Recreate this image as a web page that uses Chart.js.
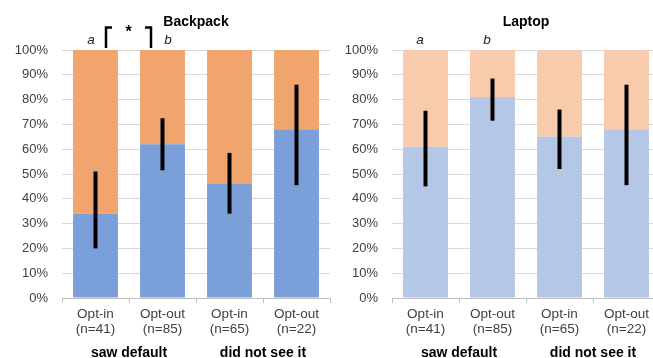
<!DOCTYPE html>
<html>
<head>
<meta charset="utf-8">
<script src="https://cdn.jsdelivr.net/npm/chart.js@4.4.1/dist/chart.umd.min.js"></script>
<style>
  html, body { margin: 0; padding: 0; background: #fff; overflow: hidden; width: 653px; height: 358px; }
  .panel { position: absolute; top: 0; width: 335px; height: 358px; }
</style>
</head>
<body>
<div class="panel" style="left:0"><canvas id="backpack"></canvas></div>
<div class="panel" style="left:330px"><canvas id="laptop"></canvas></div>
<script>
const categories = [["Opt-in", "(n=41)"], ["Opt-out", "(n=85)"], ["Opt-in", "(n=65)"], ["Opt-out", "(n=22)"]];
const groupLabels = ["saw default", "did not see it"];
const yTicks = [0, 10, 20, 30, 40, 50, 60, 70, 80, 90, 100];

// backpack panel
const backpackYes = [34, 62, 46, 68];
const backpackRest = [66, 38, 54, 32];
const backpackLow = [20, 51.5, 34, 45.5];
const backpackHigh = [51, 72.5, 58.5, 86];

// laptop panel
const laptopYes = [61, 81, 65, 68];
const laptopRest = [39, 19, 35, 32];
const laptopLow = [45, 71.5, 52, 45.5];
const laptopHigh = [75.5, 88.5, 76, 86];

const FONT = "'Liberation Sans', Arial, sans-serif";

const errorBars = {
  id: "errorBars",
  afterDatasetsDraw(chart, args, opts) {
    const ctx = chart.ctx;
    const x = chart.scales.x, y = chart.scales.y;
    ctx.save();
    ctx.strokeStyle = "#000";
    ctx.lineWidth = 4;
    opts.low.forEach((lo, i) => {
      const px = x.getPixelForValue(i);
      ctx.beginPath();
      ctx.moveTo(px, y.getPixelForValue(lo));
      ctx.lineTo(px, y.getPixelForValue(opts.high[i]));
      ctx.stroke();
    });
    ctx.restore();
  }
};

const decorations = {
  id: "decorations",
  afterDraw(chart, args, opts) {
    const ctx = chart.ctx;
    const x = chart.scales.x;
    const area = chart.chartArea;
    ctx.save();
    ctx.textAlign = "center";
    ctx.textBaseline = "middle";
    // title
    ctx.fillStyle = "#000";
    ctx.font = "bold 14px " + FONT;
    ctx.fillText(opts.title, (area.left + area.right) / 2, 22);
    // group labels under the axis
    const b0 = (x.getPixelForValue(0) + x.getPixelForValue(1)) / 2;
    const b1 = (x.getPixelForValue(2) + x.getPixelForValue(3)) / 2;
    ctx.fillText(groupLabels[0], b0, 353);
    ctx.fillText(groupLabels[1], b1, 353);
    // a / b letters
    ctx.font = "italic 13.5px " + FONT;
    ctx.fillStyle = "#222";
    ctx.fillText("a", x.getPixelForValue(0) + opts.aOff, 40);
    ctx.fillText("b", x.getPixelForValue(1) + opts.bOff, 40);
    // significance bracket
    if (opts.bracket) {
      const l = x.getPixelForValue(0) + 10.5, r = x.getPixelForValue(1) - 11.5;
      const mid = (l + r) / 2;
      ctx.strokeStyle = "#000";
      ctx.lineWidth = 2.5;
      ctx.beginPath();
      ctx.moveTo(l, 48); ctx.lineTo(l, 27.5); ctx.lineTo(l + 6, 27.5);
      ctx.moveTo(r - 6, 27.5); ctx.lineTo(r, 27.5); ctx.lineTo(r, 48);
      ctx.stroke();
      ctx.fillStyle = "#000";
      ctx.font = "bold 16px " + FONT;
      ctx.fillText("*", mid, 33);
    }
    ctx.restore();
  }
};

function makeChart(id, yes, rest, low, high, blue, orange, deco) {
  return new Chart(document.getElementById(id), {
    type: "bar",
    data: {
      labels: categories,
      datasets: [
        { data: yes, backgroundColor: blue, barPercentage: 0.67, categoryPercentage: 1 },
        { data: rest, backgroundColor: orange, barPercentage: 0.67, categoryPercentage: 1 }
      ]
    },
    options: {
      responsive: true,
      maintainAspectRatio: false,
      animation: false,
      events: [],
      layout: { padding: { top: 50, right: 5, left: 0, bottom: 0 } },
      plugins: {
        legend: { display: false },
        tooltip: { enabled: false },
        title: { display: false },
        errorBars: { low: low, high: high },
        decorations: deco
      },
      scales: {
        x: {
          stacked: true,
          grid: { display: true, offset: true, drawOnChartArea: false, drawTicks: true, tickLength: 5, color: "#bfbfbf" },
          border: { display: true, color: "#bfbfbf", width: 1 },
          ticks: { color: "#404040", font: { family: FONT, size: 13.5, lineHeight: 1.1 }, padding: 4, maxRotation: 0, autoSkip: false },
          afterFit(scale) { scale.height = 60; }
        },
        y: {
          stacked: true,
          min: 0,
          max: 100,
          afterBuildTicks(scale) { scale.ticks = yTicks.map(v => ({ value: v })); },
          grid: { color: "#d9d9d9", drawTicks: false },
          border: { display: false },
          ticks: { color: "#404040", font: { family: FONT, size: 13 }, padding: 14, callback: v => v + "%" },
          afterFit(scale) { scale.width = 62; }
        }
      }
    },
    plugins: [errorBars, decorations]
  });
}

makeChart("backpack", backpackYes, backpackRest, backpackLow, backpackHigh, "#7b9fd9", "#f0a46e",
  { title: "Backpack", aOff: -4.5, bOff: 5.5, bracket: true });
makeChart("laptop", laptopYes, laptopRest, laptopLow, laptopHigh, "#b4c7e7", "#f8cbad",
  { title: "Laptop", aOff: -5.5, bOff: -5.5, bracket: false });
</script>
</body>
</html>
